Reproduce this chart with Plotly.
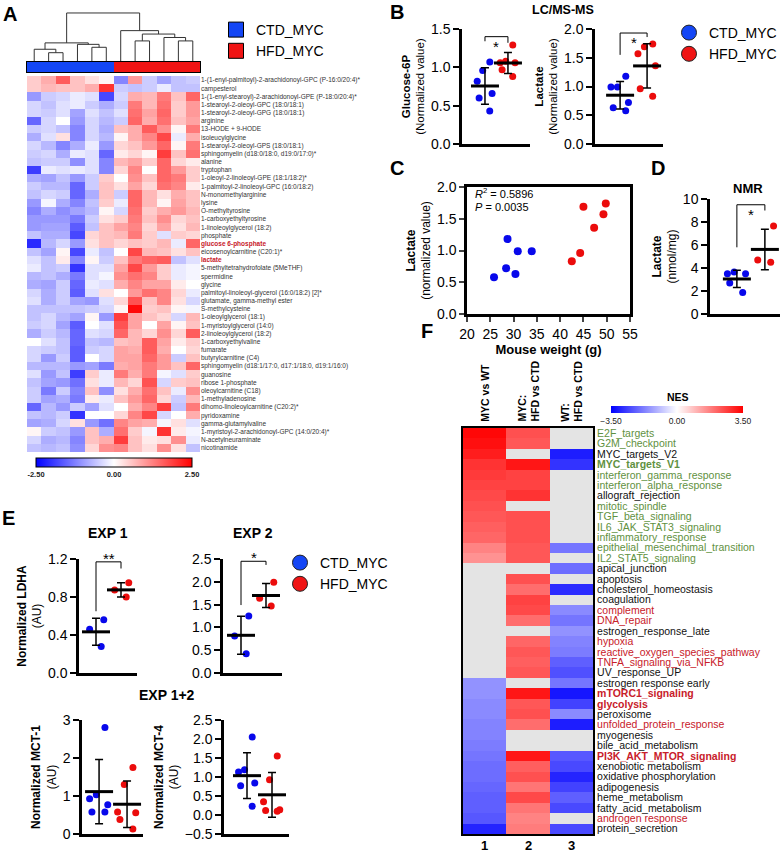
import numpy as np
import plotly.graph_objects as go

W, H = 783, 854
FONT = 'Liberation Sans, Arial, sans-serif'
BLUE = 'rgb(8,8,235)'
RED = 'rgb(235,12,12)'
LEG_BLUE = 'rgb(20,70,245)'
LEG_RED = 'rgb(240,20,20)'

###################################
# Data
groups = ['CTD_MYC', 'HFD_MYC']

metabolites = [
    '1-(1-enyl-palmitoyl)-2-arachidonoyl-GPC (P-16:0/20:4)*', 'campesterol',
    '1-(1-enyl-stearoyl)-2-arachidonoyl-GPE (P-18:0/20:4)*', '1-stearoyl-2-oleoyl-GPC (18:0/18:1)',
    '1-stearoyl-2-oleoyl-GPG (18:0/18:1)', 'arginine', '13-HODE + 9-HODE', 'isoleucylglycine',
    '1-stearoyl-2-oleoyl-GPS (18:0/18:1)', 'sphingomyelin (d18:0/18:0, d19:0/17:0)*', 'alanine',
    'tryptophan', '1-oleoyl-2-linoleoyl-GPE (18:1/18:2)*', '1-palmitoyl-2-linoleoyl-GPC (16:0/18:2)',
    'N-monomethylarginine', 'lysine', 'O-methyltyrosine', '1-carboxyethyltyrosine',
    '1-linoleoylglycerol (18:2)', 'phosphate', 'glucose 6-phosphate', 'eicosenoylcarnitine (C20:1)*',
    'lactate', '5-methyltetrahydrofolate (5MeTHF)', 'spermidine', 'glycine',
    'palmitoyl-linoleoyl-glycerol (16:0/18:2) [2]*', 'glutamate, gamma-methyl ester',
    'S-methylcysteine', '1-oleoylglycerol (18:1)', '1-myristoylglycerol (14:0)',
    '2-linoleoylglycerol (18:2)', '1-carboxyethylvaline', 'fumarate', 'butyrylcarnitine (C4)',
    'sphingomyelin (d18:1/17:0, d17:1/18:0, d19:1/16:0)', 'guanosine', 'ribose 1-phosphate',
    'oleoylcarnitine (C18)', '1-methyladenosine', 'dihomo-linoleoylcarnitine (C20:2)*',
    'pyridoxamine', 'gamma-glutamylvaline', '1-myristoyl-2-arachidonoyl-GPC (14:0/20:4)*',
    'N-acetylneuraminate', 'nicotinamide']

# z-scores, 6 CTD_MYC samples then 6 HFD_MYC samples
metab_z = [
    [0.5, 0.8, 1.6, 0.6, 0.3, 0.1, -1.2, 1.0, -0.5, -0.9, -0.6, -0.5],
    [0.5, 0.7, 0.6, 0.6, 0.8, 2.0, -0.5, -0.6, -0.5, -0.2, -0.6, -0.6],
    [-1.0, -0.5, -0.4, -0.2, -0.3, -1.8, -0.4, 0.8, 0.7, 1.3, 0.6, 1.5],
    [-0.4, -0.6, -0.3, -0.2, -0.5, -0.8, -0.5, 1.3, 0.7, 1.4, 0.5, 1.0],
    [-0.4, -0.5, -0.3, -0.9, -0.3, -0.6, -0.3, 1.4, 0.9, 1.5, 0.5, 1.0],
    [-1.5, -0.4, 0.0, -1.0, -0.4, -0.7, -0.5, 1.5, 0.8, 1.4, 0.6, 0.9],
    [-0.5, -0.4, -0.6, -1.2, -0.4, -0.8, 0.6, 0.8, 1.6, 1.1, 0.1, 1.3],
    [-0.8, -0.3, 0.3, -1.2, -0.4, -0.7, 0.1, 0.8, 1.2, 1.8, -0.2, 0.8],
    [-0.4, -0.7, -1.2, -0.8, -0.2, -1.0, 0.4, 0.6, 1.0, 1.5, 0.1, 1.3],
    [-0.5, -0.4, -0.8, -0.2, -0.3, -1.5, 0.2, 0.4, 0.1, 1.9, 0.6, 1.4],
    [-0.6, -0.5, -0.5, -1.1, -0.3, -1.2, 0.7, 0.9, 0.5, 1.5, 0.4, 0.2],
    [-1.9, -0.2, -0.3, -0.2, -0.3, -1.2, 0.4, 1.2, 0.0, 1.5, 1.0, 0.5],
    [-0.8, -0.9, -0.6, -1.0, -0.5, 0.5, 0.0, 1.1, 0.6, 1.5, 1.3, 0.5],
    [-0.5, -0.7, -0.7, -1.5, -0.5, 0.6, 0.3, 0.9, 0.4, 1.4, 1.2, 0.2],
    [-0.6, -0.4, -0.5, -1.5, -0.8, 0.6, -0.5, 1.5, 0.7, 0.3, 0.8, 0.6],
    [-1.0, -0.1, -0.8, -1.2, -0.6, 0.5, -0.2, 1.5, 0.7, 0.1, 0.9, 0.6],
    [-1.2, -0.8, -1.1, -0.9, -0.7, 0.1, -0.4, 1.4, 0.5, 0.8, 1.0, 0.7],
    [-1.0, -1.0, -1.0, -1.3, -0.5, 0.3, 0.5, 1.3, 0.6, 1.1, 0.4, 0.6],
    [-1.0, -0.9, -0.9, -1.6, -0.6, 0.6, 0.9, 1.2, 0.4, 0.9, 0.3, 0.7],
    [-0.6, -0.8, -0.8, -1.8, 0.4, 0.6, 0.7, 1.3, 0.5, -0.3, 0.5, 0.4],
    [-2.1, -0.7, -0.4, -1.0, 0.3, 0.6, 0.4, 0.6, 0.5, 0.7, -0.2, 1.5],
    [-0.6, -0.9, 0.1, -1.8, -0.2, -0.6, 0.0, 1.8, 0.7, 0.6, 0.3, 0.6],
    [-0.3, -0.6, 0.2, -1.2, 0.1, -0.5, 0.6, 1.3, 1.5, 1.6, -0.6, -0.3],
    [-0.2, -0.6, -0.5, -2.0, -0.3, -0.3, 0.9, 1.8, 1.0, 0.5, -0.2, -0.1],
    [-0.7, -0.6, -0.8, -1.3, -0.3, -0.1, 1.1, 1.4, 1.2, 0.5, -0.2, -0.1],
    [-0.8, -0.9, -0.5, -1.5, -0.2, -0.3, 0.8, 1.2, 0.9, 0.9, 0.2, 0.0],
    [-0.4, -0.8, -0.5, -1.6, -0.3, 0.3, 0.0, 1.0, 1.4, 1.2, 0.4, -0.2],
    [-0.3, -0.8, -0.5, -0.9, -1.0, -0.3, 0.4, 1.7, 0.6, 1.2, 0.3, -0.4],
    [-0.6, -0.6, -0.6, -0.6, -0.5, -0.4, 0.1, 2.4, 0.5, 0.6, 0.1, -0.1],
    [-0.6, -0.4, -0.7, -0.9, 0.1, -1.0, 1.9, 0.9, 0.6, 0.4, -0.4, 0.7],
    [-0.5, -0.4, -0.9, -1.6, 0.0, -0.3, 1.7, 0.9, 0.0, 0.9, 0.1, 0.6],
    [-0.8, -0.5, -0.7, -1.5, -0.3, -0.4, 1.5, 0.7, 0.4, 1.1, 0.4, 1.6],
    [0.0, -0.3, -0.6, -1.5, -0.6, -0.7, 0.6, 0.7, 1.6, 0.9, 0.2, 0.5],
    [-0.4, -0.5, -0.6, -1.6, -0.5, -0.4, 0.9, 0.8, 1.6, 0.8, 0.0, 0.4],
    [-0.4, -1.0, -0.5, -1.6, 0.0, -0.4, 0.9, 0.9, 1.5, 1.0, -0.5, 0.6],
    [-0.7, -0.7, -0.7, -1.0, -0.9, -1.3, 0.8, 0.9, 1.3, 1.0, 0.6, 1.5],
    [-0.3, -1.0, -0.6, -1.9, 0.5, -0.2, 1.3, 0.8, 1.3, -0.1, -0.3, 0.5],
    [-0.6, -0.9, -1.0, -1.4, 0.3, -0.2, 0.7, 0.4, 1.7, -0.4, 0.5, 0.6],
    [-0.5, -1.3, -0.5, -1.2, 0.6, -1.1, 0.3, 0.8, 1.4, 0.6, -0.2, 1.1],
    [-0.5, -0.9, -0.8, -1.3, 0.2, -0.2, 0.6, 1.0, 1.5, 0.4, -0.5, 0.7],
    [-1.5, -0.7, -1.0, -0.5, -0.9, -0.3, 0.0, 0.8, 1.2, 1.9, -0.6, 1.3],
    [-0.6, -0.7, -0.5, -2.0, 0.0, 0.0, 0.4, 1.2, 1.8, -0.4, 0.0, 0.8],
    [-0.9, -0.8, -0.4, 0.3, -1.0, -1.4, 1.2, 0.9, 0.8, -0.1, 0.3, -0.3],
    [0.1, -0.5, -0.6, -1.0, 0.6, -0.8, 1.4, 0.5, -0.1, 2.0, 0.2, -0.1],
    [-0.4, -0.8, -0.7, -1.2, 0.6, 0.8, 1.9, 0.6, 0.2, 0.3, 1.1, -0.2],
    [-0.6, -0.7, -0.6, -1.1, 0.4, 1.1, 1.2, 0.6, 0.3, 1.1, 0.3, -0.6]]

# sample groups of the 12 columns (0 = CTD_MYC, 1 = HFD_MYC)
sample_group = [0, 0, 0, 0, 0, 0, 1, 1, 1, 1, 1, 1]

# hierarchical clustering of the 12 samples: (child a, child b, height); merge k gets id 12 + k
dendro_merges = [(1, 2, 0.19), (0, 12, 0.26), (4, 5, 0.30), (3, 14, 0.36), (13, 15, 0.39),
                 (7, 8, 0.43), (10, 11, 0.43), (9, 18, 0.50), (17, 19, 0.57), (6, 20, 0.64),
                 (16, 21, 1.0)]

# B: LC/MS-MS
g6p_ctd = [1.07, 0.96, 0.82, 0.66, 0.60, 0.43]
g6p_hfd = [1.29, 1.08, 1.06, 1.06, 0.97, 0.88]

# C: mouse weight vs lactate (also used in B)
weight_ctd = [25.8, 28.4, 28.7, 30.4, 30.9, 33.9]
lactate_ctd = [0.58, 0.72, 1.18, 0.63, 0.99, 0.99]
weight_hfd = [42.5, 44.3, 45.0, 47.3, 49.3, 49.8]
lactate_hfd = [0.83, 0.96, 1.69, 1.36, 1.57, 1.74]
r2_value = '0.5896'
p_value = '0.0035'

# D: NMR lactate (nmol/mg)
nmr_ctd = [3.5, 3.65, 3.5, 2.7, 1.88]
nmr_hfd = [7.65, 4.5, 4.7]

# E: western blot quantification (AU)
ldha1_ctd = [0.56, 0.46, 0.28]
ldha1_hfd = [0.95, 0.875, 0.80]
ldha2_ctd = [1.25, 0.81, 0.42]
ldha2_hfd = [1.99, 1.64, 1.47]
mct1_ctd = [2.8, 1.03, 0.93, 0.77, 0.58, 0.58]
mct1_hfd = [1.75, 1.3, 0.58, 0.56, 0.38, 0.13]
mct4_ctd = [2.05, 1.19, 1.13, 0.84, 0.77, 0.23]
mct4_hfd = [1.55, 0.93, 0.35, 0.14, 0.12, 0.10]

# F: GSEA hallmark NES (None = not significant)
hallmarks = [
    'E2F_targets', 'G2M_checkpoint', 'MYC_targets_V2', 'MYC_targets_V1',
    'interferon_gamma_response', 'interferon_alpha_response', 'allograft_rejection',
    'mitotic_spindle', 'TGF_beta_signaling', 'IL6_JAK_STAT3_signaling', 'inflammatory_response',
    'epithelial_mesenchimal_transition', 'IL2_STAT5_signaling', 'apical_junction', 'apoptosis',
    'cholesterol_homeostasis', 'coagulation', 'complement', 'DNA_repair', 'estrogen_response_late',
    'hypoxia', 'reactive_oxygen_species_pathway', 'TNFA_signaling_via_NFKB', 'UV_response_UP',
    'estrogen response early', 'mTORC1_signaling', 'glycolysis', 'peroxisome',
    'unfolded_protein_response', 'myogenesis', 'bile_acid_metabolism', 'PI3K_AKT_MTOR_signaling',
    'xenobiotic metabolism', 'oxidative phosphorylation', 'adipogenesis', 'heme_metabolism',
    'fatty_acid_metabolism', 'androgen response', 'protein_secretion']
comparisons = ['MYC vs WT', 'MYC:<br>HFD vs CTD', 'WT:<br>HFD vs CTD']
comparison_ids = ['1', '2', '3']
nes_myc_vs_wt = [3.4, 3.3, 3.1, 2.8, 2.7, 2.6, 2.5, 2.4, 2.3, 2.2, 2.1, 1.7, 1.5,
                 None, None, None, None, None, None, None, None, None, None, None,
                 -1.5, -1.5, -1.6, -1.6, -1.7, -1.7, -1.8, -1.9, -2.0, -2.0, -2.1, -2.2,
                 -2.2, -2.3, -3.0]
nes_myc_hfd = [2.4, 2.3, None, 3.2, 2.6, 2.6, 2.8, None, 2.4, 2.4, 2.4, 2.3, 2.3,
               None, 2.4, 2.0, 2.6, 2.5, 2.0, None, 2.1, 2.3, 2.2, 2.3,
               None, 3.2, 2.3, 2.4, 2.0, None, None, 3.2, 2.2, 2.4, 1.9, 2.5,
               1.9, 1.7, 1.8]
nes_wt_hfd = [None, None, -3.1, -2.8, None, None, None, None, None, None, None, -1.9, None,
              -2.0, None, -2.9, None, -1.6, -1.9, -1.5, -1.7, -1.8, -2.2, -2.4,
              -1.9, -3.2, -2.6, -1.6, -3.1, None, None, -2.3, -2.5, -3.0, -2.6, -2.2,
              -2.5, None, -2.5]

###################################
# Label styling for panel F / A
GREEN_TXT = 'rgb(95,145,65)'
RED_TXT = 'rgb(200,32,42)'
green_labels = {'E2F_targets', 'G2M_checkpoint', 'MYC_targets_V1', 'interferon_gamma_response',
                'interferon_alpha_response', 'mitotic_spindle', 'TGF_beta_signaling',
                'IL6_JAK_STAT3_signaling', 'inflammatory_response',
                'epithelial_mesenchimal_transition', 'IL2_STAT5_signaling'}
red_labels = {'complement', 'DNA_repair', 'hypoxia', 'reactive_oxygen_species_pathway',
              'TNFA_signaling_via_NFKB', 'mTORC1_signaling', 'glycolysis',
              'unfolded_protein_response', 'PI3K_AKT_MTOR_signaling', 'androgen response'}
bold_labels = {'MYC_targets_V1', 'mTORC1_signaling', 'glycolysis', 'PI3K_AKT_MTOR_signaling'}
highlight_metabolites = {'glucose 6-phosphate', 'lactate'}


def style_label(name):
    color = GREEN_TXT if name in green_labels else RED_TXT if name in red_labels else '#111111'
    txt = f'<span style="color:{color}">{name}</span>'
    return f'<b>{txt}</b>' if name in bold_labels else txt


def px_x(a, b):
    return [a / W, b / W]


def px_y(top, bottom):
    return [1 - bottom / H, 1 - top / H]


fig = go.Figure()
layout_axes = {}
annotations = []
shapes = []


def note(text, x, y, size, bold=False, xanchor='center', yanchor='middle', angle=0, align='center'):
    annotations.append(dict(text=f'<b>{text}</b>' if bold else text, x=x / W, y=1 - y / H,
                            xref='paper', yref='paper', showarrow=False, textangle=angle,
                            font=dict(size=size, color='black'), xanchor=xanchor,
                            yanchor=yanchor, align=align))


###################################
# Panel A: dendrogram
pos = {i: (float(i), 0.0) for i in range(12)}
dx, dy = [], []
for k, (a, b, h) in enumerate(dendro_merges):
    xa, ha = pos[a]
    xb, hb = pos[b]
    dx += [xa, xa, xb, xb, None]
    dy += [ha, h, h, hb, None]
    pos[12 + k] = ((xa + xb) / 2, h)
fig.add_trace(go.Scatter(x=dx, y=dy, mode='lines', line=dict(color='#333333', width=1),
                         xaxis='x', yaxis='y', showlegend=False, hoverinfo='skip'))
layout_axes['xaxis'] = dict(domain=px_x(27, 200), range=[-0.5, 11.5], visible=False, anchor='y')
layout_axes['yaxis'] = dict(domain=px_y(12, 62), range=[0, 1.02], visible=False, anchor='x')

# group colour bar
fig.add_trace(go.Heatmap(z=[sample_group], x=list(range(12)), y=[0],
                         colorscale=[[0, LEG_BLUE], [1, LEG_RED]], zmin=0, zmax=1,
                         showscale=False, xaxis='x2', yaxis='y2', hoverinfo='skip'))
layout_axes['xaxis2'] = dict(domain=px_x(27, 200), range=[-0.5, 11.5], anchor='y2', showline=True,
                             mirror=True, linewidth=1, linecolor='black', showticklabels=False,
                             ticks='', showgrid=False, zeroline=False)
layout_axes['yaxis2'] = dict(domain=px_y(62, 72), range=[-0.5, 0.5], anchor='x2', showline=True,
                             mirror=True, linewidth=1, linecolor='black', showticklabels=False,
                             ticks='', showgrid=False, zeroline=False)

# metabolite heatmap
met_text = [f'<b><span style="color:{RED_TXT}">{m}</span></b>' if m in highlight_metabolites
            else m for m in metabolites]
fig.add_trace(go.Heatmap(z=metab_z, x=list(range(12)), y=list(range(len(metabolites))),
                         colorscale=[[0, '#0000ff'], [0.5, '#ffffff'], [1, '#ff0000']],
                         zmin=-2.5, zmax=2.5, xaxis='x3', yaxis='y3',
                         colorbar=dict(orientation='h', x=114 / W, xanchor='center',
                                       y=1 - 458 / H, yanchor='top', len=156 / W,
                                       lenmode='fraction', thickness=9, outlinewidth=1,
                                       outlinecolor='black', xpad=0, ypad=0, ticks='',
                                       tickvals=[-2.5, 0, 2.5],
                                       ticktext=['<b>-2.50</b>', '<b>0.00</b>', '<b>2.50</b>'],
                                       tickfont=dict(size=7.5, color='#222'))))
layout_axes['xaxis3'] = dict(domain=px_x(27, 200), range=[-0.5, 11.5], visible=False, anchor='y3')
layout_axes['yaxis3'] = dict(domain=px_y(76, 452), range=[len(metabolites) - 0.5, -0.5],
                             anchor='x3', side='right', tickvals=list(range(len(metabolites))),
                             ticktext=met_text, tickfont=dict(size=6.5, color='#333'), ticks='',
                             showgrid=False, zeroline=False, showline=False)

# legend traces for A
for name, col in zip(groups, [LEG_BLUE, LEG_RED]):
    fig.add_trace(go.Scatter(x=[None], y=[None], mode='markers', name=name, legend='legend',
                             marker=dict(symbol='square', size=15, color=col,
                                         line=dict(color='black', width=1)),
                             xaxis='x3', yaxis='y3'))


###################################
# Dot-plot helper for B, D, E
def dotplot(n, ctd, hfd, size=7):
    for i, (vals, col) in enumerate([(ctd, BLUE), (hfd, RED)]):
        fig.add_trace(go.Box(x=[i] * len(vals), y=vals, boxpoints='all', jitter=1, pointpos=0,
                             width=0.8, fillcolor='rgba(0,0,0,0)',
                             line=dict(width=0, color='rgba(0,0,0,0)'),
                             marker=dict(color=col, size=size), xaxis=f'x{n}', yaxis=f'y{n}',
                             showlegend=False, hoverinfo='y'))
        fig.add_trace(go.Scatter(x=[i], y=[np.mean(vals)], mode='markers',
                                 marker=dict(symbol='line-ew', size=20,
                                             line=dict(width=3, color='black')),
                                 error_y=dict(type='data', array=[np.std(vals, ddof=1)],
                                              color='black', thickness=1.5, width=4),
                                 xaxis=f'x{n}', yaxis=f'y{n}', showlegend=False))


def dot_axes(n, xpx, ypx, xr, yr, dtick, fmt, title=None, tsize=12, standoff=4):
    layout_axes[f'xaxis{n}'] = dict(domain=px_x(*xpx), range=xr, anchor=f'y{n}', showline=True,
                                    linewidth=2.5, linecolor='black', ticks='',
                                    showticklabels=False, showgrid=False, zeroline=False)
    yax = dict(domain=px_y(*ypx), range=yr, anchor=f'x{n}', showline=True,
               linewidth=2.5, linecolor='black', ticks='outside',
               ticklen=6, tickwidth=2, tickcolor='black', dtick=dtick,
               tick0=0, tickformat=fmt, tickfont=dict(size=14),
               showgrid=False, zeroline=False)
    if title:
        yax['title'] = dict(text=title, font=dict(size=tsize), standoff=standoff)
    layout_axes[f'yaxis{n}'] = yax


def bracket(n, y_left, y_top, y_right, star, y_star):
    shapes.append(dict(type='path', xref=f'x{n}', yref=f'y{n}',
                       path=f'M 0,{y_left} L 0,{y_top} L 1,{y_top} L 1,{y_right}',
                       line=dict(color='black', width=1)))
    # star placed in paper units so it may sit above the axis range
    d0, d1 = layout_axes[f'yaxis{n}']['domain']
    r0, r1 = layout_axes[f'yaxis{n}']['range']
    ys = d0 + (y_star - r0) / (r1 - r0) * (d1 - d0)
    annotations.append(dict(text=star, x=0.5, y=ys, xref=f'x{n}', yref='paper',
                            showarrow=False, font=dict(size=15, color='black'),
                            yshift=-4))


# B
dotplot(4, g6p_ctd, g6p_hfd)
dot_axes(4, (462, 530), (29, 144), [-1.0, 1.96], [0, 1.5], 0.5, '.1f',
         '<b>Glucose-6P</b><br>(Normalized value)', 11.5)
bracket(4, 1.34, 1.40, 1.32, '*', 1.465)
dotplot(5, lactate_ctd, lactate_hfd)
dot_axes(5, (595, 663), (29, 144), [-0.93, 1.59], [0, 2.0], 0.5, '.1f',
         '<b>Lactate</b><br>(Normalized value)', 11.5)
bracket(5, 1.55, 1.93, 1.86, '*', 2.01)
for name, col in zip(groups, [LEG_BLUE, LEG_RED]):
    fig.add_trace(go.Scatter(x=[None], y=[None], mode='markers', name=name, legend='legend2',
                             marker=dict(symbol='circle', size=15, color=col,
                                         line=dict(color='#222', width=1)),
                             xaxis='x4', yaxis='y4'))

# C
fig.add_trace(go.Scatter(x=weight_ctd, y=lactate_ctd, mode='markers', xaxis='x6', yaxis='y6',
                         marker=dict(color=BLUE, size=8), showlegend=False))
fig.add_trace(go.Scatter(x=weight_hfd, y=lactate_hfd, mode='markers', xaxis='x6', yaxis='y6',
                         marker=dict(color=RED, size=8), showlegend=False))
layout_axes['xaxis6'] = dict(domain=px_x(467, 630), range=[20, 55], anchor='y6', showline=True,
                             mirror=True, linewidth=2.5, linecolor='black', ticks='outside',
                             ticklen=5, tickwidth=2, dtick=5, tickfont=dict(size=14),
                             showgrid=False, zeroline=False,
                             title=dict(text='<b>Mouse weight (g)</b>', font=dict(size=13),
                                        standoff=2))
layout_axes['yaxis6'] = dict(domain=px_y(187, 314), range=[0, 2.0], anchor='x6', showline=True,
                             mirror=True, linewidth=2.5, linecolor='black', ticks='outside',
                             ticklen=5, tickwidth=2, dtick=0.5, tickformat='.1f',
                             tickfont=dict(size=14), showgrid=False, zeroline=False,
                             title=dict(text='<b>Lactate</b><br>(normalized value)',
                                        font=dict(size=12), standoff=4))
note(f'<i>R</i><sup>2</sup> = {r2_value}', 473, 193, 11, xanchor='left')
note(f'<i>P</i> = {p_value}', 473, 207, 11, xanchor='left')

# D
dotplot(7, nmr_ctd, nmr_hfd)
dot_axes(7, (710, 780), (199, 314), [-0.96, 1.54], [0, 10], 2, 'd',
         '<b>Lactate</b><br>(nmol/mg)', 12)
bracket(7, 5.8, 9.5, 9.0, '*', 9.9)

# E
dotplot(8, ldha1_ctd, ldha1_hfd)
dot_axes(8, (79, 137), (559, 673), [-0.68, 1.64], [0, 1.2], 0.4, '.1f',
         '<b>Normalized LDHA</b><br>(AU)', 12)
bracket(8, 0.65, 1.17, 1.10, '**', 1.25)
dotplot(9, ldha2_ctd, ldha2_hfd)
dot_axes(9, (223, 282), (559, 673), [-0.72, 1.64], [0, 2.5], 0.5, '.1f')
bracket(9, 1.49, 2.45, 2.37, '*', 2.61)
dotplot(10, mct1_ctd, mct1_hfd)
dot_axes(10, (82, 143), (720, 834), [-0.61, 1.57], [0, 3], 1, 'd',
         '<b>Normalized MCT-1</b><br>(AU)', 12)
dotplot(11, mct4_ctd, mct4_hfd)
dot_axes(11, (224, 289), (720, 834), [-0.92, 1.68], [-0.5, 2.5], 0.5, '.1f',
         '<b>Normalized MCT-4</b><br>(AU)', 12)
for name, col in zip(groups, [LEG_BLUE, LEG_RED]):
    fig.add_trace(go.Scatter(x=[None], y=[None], mode='markers', name=name, legend='legend3',
                             marker=dict(symbol='circle', size=15, color=col,
                                         line=dict(color='#222', width=1)),
                             xaxis='x8', yaxis='y8'))

###################################
# Panel F: NES heatmap
nes_z = [list(r) for r in zip(nes_myc_vs_wt, nes_myc_hfd, nes_wt_hfd)]
rows = list(range(len(hallmarks)))
fig.add_trace(go.Heatmap(z=[[0, 0, 0] for _ in rows], x=[0, 1, 2], y=rows,
                         colorscale=[[0, '#e4e4e4'], [1, '#e4e4e4']], showscale=False,
                         xaxis='x12', yaxis='y12', hoverinfo='skip'))
fig.add_trace(go.Heatmap(z=nes_z, x=[0, 1, 2], y=rows,
                         colorscale=[[0, '#0000ff'], [0.5, '#ffffff'], [1, '#ff0000']],
                         zmin=-3.5, zmax=3.5, xaxis='x12', yaxis='y12',
                         colorbar=dict(orientation='h', x=677 / W, xanchor='center',
                                       y=1 - 406 / H, yanchor='top', len=132 / W,
                                       lenmode='fraction', thickness=7, outlinewidth=0,
                                       xpad=0, ypad=0, ticks='', tickvals=[-3.5, 0, 3.5],
                                       ticktext=['\u22123.50', '0.00', '3.50'],
                                       tickfont=dict(size=8.5, color='#222'))))
layout_axes['xaxis12'] = dict(domain=px_x(463, 593), range=[-0.5, 2.5], anchor='y12',
                              showline=True, mirror=True, linewidth=2, linecolor='black',
                              showticklabels=False, ticks='', showgrid=False, zeroline=False)
layout_axes['yaxis12'] = dict(domain=px_y(428, 834), range=[len(hallmarks) - 0.5, -0.5],
                              anchor='x12', side='right', tickvals=rows,
                              ticktext=[style_label(h) for h in hallmarks],
                              tickfont=dict(size=10.5), ticks='', showline=True, mirror=True,
                              linewidth=2, linecolor='black', showgrid=False, zeroline=False)
col_centers = [484.7, 528, 571.3]
for name, cx in zip(comparisons, col_centers):
    lines = '<br>'.join(f'<b>{ln}</b>' for ln in name.split('<br>'))
    note(lines, cx, 424, 10.5, yanchor='bottom', angle=-90, align='left')
for cid, cx in zip(comparison_ids, col_centers):
    note(cid, cx, 845, 13, bold=True)
note('NES', 678, 397, 10.5, bold=True)

###################################
# Titles and panel letters
note('A', 10, 14, 20, bold=True)
note('B', 397, 12, 20, bold=True)
note('C', 397, 168, 20, bold=True)
note('D', 658, 168, 20, bold=True)
note('E', 8, 518, 20, bold=True)
note('F', 427, 331, 20, bold=True)
note('LC/MS-MS', 563, 10, 12.5, bold=True)
note('NMR', 748, 188, 13, bold=True)
note('EXP 1', 108, 533, 14, bold=True)
note('EXP 2', 253, 533, 14, bold=True)
note('EXP 1+2', 167, 695, 14, bold=True)

# keep the plot area equal to the full page
for key in layout_axes:
    layout_axes[key]['automargin'] = False

legend_style = dict(xanchor='left', yanchor='top', bgcolor='rgba(0,0,0,0)',
                    font=dict(size=14, color='black'), itemwidth=30, tracegroupgap=0)
fig.update_layout(
    width=W, height=H, margin=dict(l=0, r=0, t=0, b=0, autoexpand=False),
    paper_bgcolor='white', plot_bgcolor='white',
    font=dict(family=FONT, color='black'),
    showlegend=True,
    legend=dict(x=216 / W, y=1 - 14 / H, **legend_style),
    legend2=dict(x=669 / W, y=1 - 17 / H, **legend_style),
    legend3=dict(x=280 / W, y=1 - 547 / H, **legend_style),
    annotations=annotations, shapes=shapes,
    **layout_axes)

# drop the browser's default body margin so the figure sits at the page corner
fig.write_html('out.html', config={'displayModeBar': False},
               post_script="document.body.style.margin = '0px';")
